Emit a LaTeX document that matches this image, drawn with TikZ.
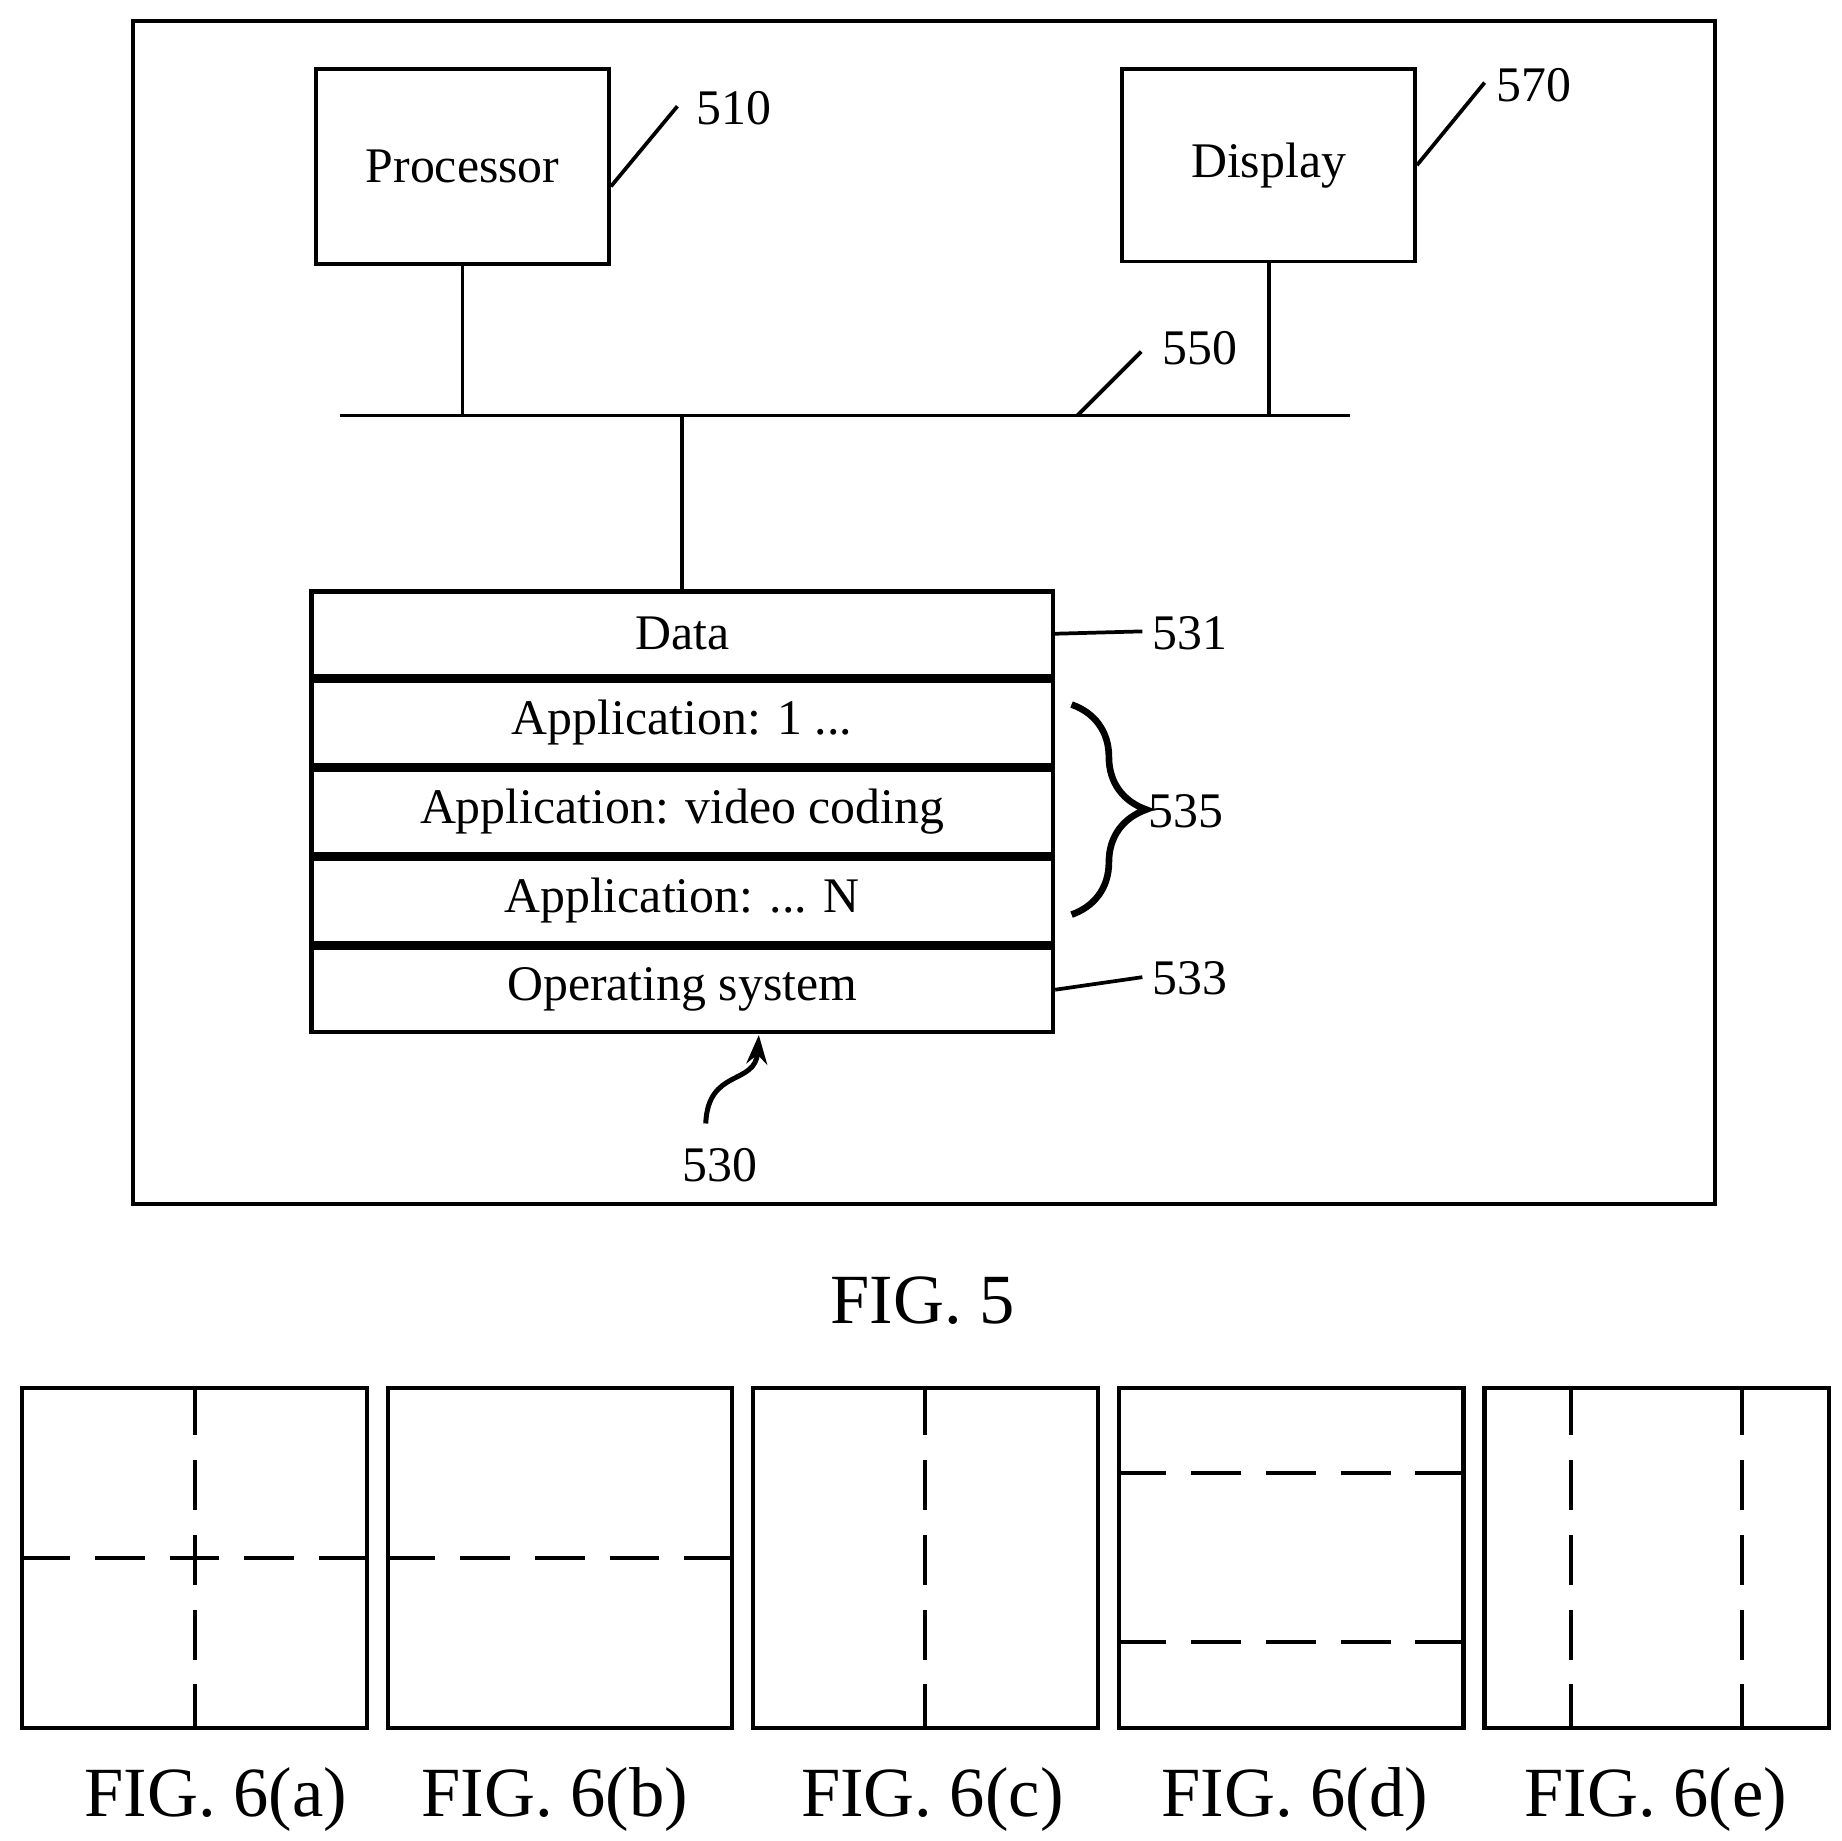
\documentclass[tikz,border=0pt]{standalone}
\usepackage{fontspec}
\setmainfont{Liberation Serif}
\usetikzlibrary{positioning,decorations.pathreplacing,arrows.meta}

\begin{document}
\begin{tikzpicture}[x=0.01cm,y=-0.01cm,line width=0.9pt,
  font=\fontsize{12}{14}\selectfont,
  blk/.style={draw,rectangle,minimum width=2.48cm,minimum height=1.65cm},
  lay/.style={draw,rectangle,line width=1.1pt,minimum width=6.28cm,minimum height=0.715cm,inner sep=0pt},
  part/.style={draw,rectangle,line width=1pt,minimum width=2.92cm,minimum height=2.88cm},
  cut/.style={dashed,dash pattern=on 12pt off 6pt,line width=1pt},
  fig/.style={font=\fontsize{17}{20}\selectfont}]

  \useasboundingbox (0,0) rectangle (1560,1560);
  \draw (113,18) rectangle (1453,1020);

  \node[blk] (proc) at (392,141) {Processor};
  \node[blk,minimum height=1.63cm] (disp) at (1075,140) {Display};

  % bus
  \coordinate (busl) at (288,352);
  \coordinate (busr) at (1144,352);
  \draw (busl) -- (busr);
  \draw (proc.south) -- (proc.south |- busl);
  \draw (disp.south) -- (disp.south |- busl);

  % memory stack
  \node[lay] (data) at (578,537) {Data};
  \node[lay,below=0pt of data] (app1) {Application: 1 ...};
  \node[lay,below=0pt of app1] (appv) {Application: video coding};
  \node[lay,below=0pt of appv] (appn) {Application: ... N};
  \node[lay,below=0pt of appn] (os) {Operating system};
  \draw (data.north |- busl) -- (data.north);

  % labels
  \node (l510) at (622,92) {510};
  \draw (proc.east) ++(0,17) coordinate (p510) -- (574,90);
  \node (l570) at (1300,72) {570};
  \draw (disp.east) coordinate (p570) -- (1258,70);
  \node (l550) at (1017,295) {550};
  \draw (913,352) -- (967,298);
  \node (l531) at (1008,537) {531};
  \draw (data.east) -- (968,535);
  \node (l533) at (1008,829) {533};
  \draw (os.east) -- (968,828);
  \draw[decorate,decoration={brace,amplitude=18pt},line width=1.6pt] (908,597) -- (908,775);
  \node (l535) at (1005,687) {535};
  \node (l530) at (610,987) {530};
  \coordinate (t530) at (643,877);
  \draw[-{Stealth[length=7pt,width=5pt]},line width=1.2pt] (598,952) .. controls (600,905) and (640,920) .. (t530);

  \node[fig] (f5) at (782,1102) {FIG. 5};

  % partitions
  \node[part] (pa) at (165,1320) {};
  \node[part] (pb) at (474.5,1320) {};
  \node[part] (pc) at (784,1320) {};
  \node[part] (pd) at (1094,1320) {};
  \node[part] (pe) at (1404,1320) {};
  \draw[cut] (pa.north) -- (pa.south) (pa.west) -- (pa.east);
  \draw[cut] (pb.west) -- (pb.east);
  \draw[cut] (pc.north) -- (pc.south);
  \draw[cut] (pd.west |- 0,1248) -- (pd.east |- 0,1248) (pd.west |- 0,1391) -- (pd.east |- 0,1391);
  \draw[cut] (1331,0 |- pe.north) -- (1331,0 |- pe.south) (1476,0 |- pe.north) -- (1476,0 |- pe.south);
  \foreach \n/\t/\x in {fa/a/183,fb/b/470,fc/c/790,fd/d/1097,fe/e/1403}
    \node[fig] (\n) at (\x,1525) {FIG. 6(\t)};
\end{tikzpicture}
\end{document}
